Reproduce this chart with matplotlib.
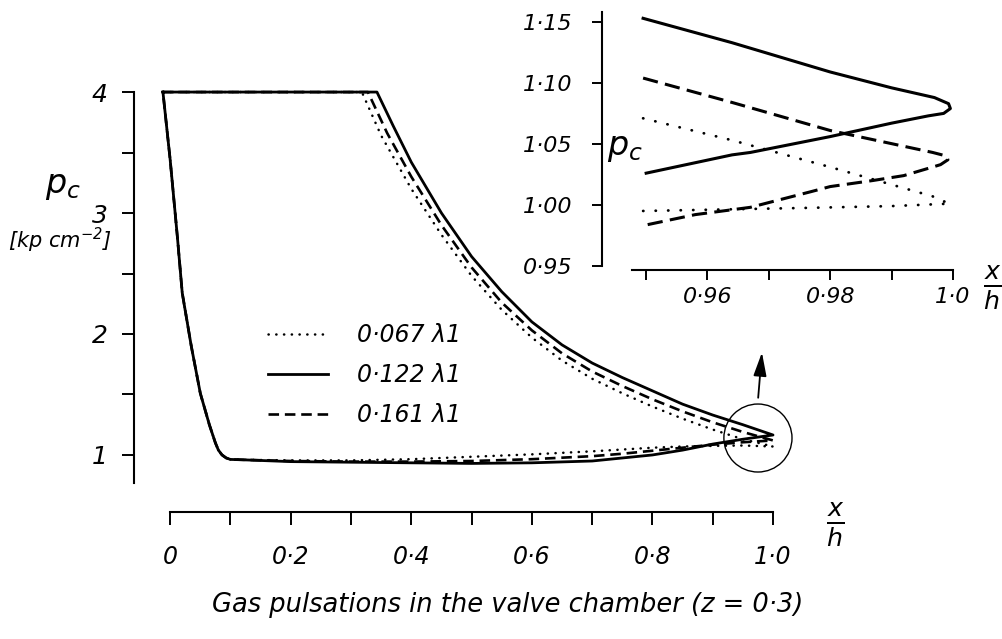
import matplotlib
matplotlib.use("Agg")
import matplotlib.pyplot as plt
from matplotlib.patches import Ellipse

# ---------------- data ----------------
series_labels = ["0·067 λ1", "0·122 λ1", "0·161 λ1"]

# shared steep left branch (x/h, p_c)
left_x = [0.12, 0.10, 0.093, 0.086, 0.08, 0.075, 0.065, 0.05, 0.035, 0.02, 0.012, 0.0, -0.012]
left_p = [0.96, 0.963, 0.975, 1.0, 1.04, 1.10, 1.25, 1.51, 1.90, 2.34, 2.80, 3.44, 4.0]

# decaying upper branches
dot_dec_x = [0.318, 0.35, 0.40, 0.45, 0.50, 0.55, 0.60, 0.65, 0.70, 0.75, 0.80, 0.85, 0.90, 0.95, 1.0]
dot_dec_p = [4.0, 3.64, 3.20, 2.82, 2.48, 2.20, 1.97, 1.78, 1.63, 1.51, 1.40, 1.30, 1.21, 1.13, 1.07]
sol_dec_x = [0.343, 0.37, 0.40, 0.45, 0.50, 0.55, 0.60, 0.65, 0.70, 0.75, 0.80, 0.85, 0.90, 0.95, 1.0]
sol_dec_p = [4.0, 3.72, 3.42, 3.00, 2.64, 2.35, 2.10, 1.91, 1.76, 1.64, 1.53, 1.42, 1.33, 1.25, 1.165]
das_dec_x = [0.328, 0.36, 0.40, 0.45, 0.50, 0.55, 0.60, 0.65, 0.70, 0.75, 0.80, 0.85, 0.90, 0.95, 1.0]
das_dec_p = [4.0, 3.66, 3.30, 2.90, 2.55, 2.26, 2.03, 1.84, 1.69, 1.57, 1.46, 1.36, 1.27, 1.19, 1.12]

# lower branches
low_x = [0.12, 0.2, 0.3, 0.4, 0.5, 0.6, 0.7, 0.75, 0.8, 0.85, 0.9, 0.95, 1.0]
dot_low_p = [0.96, 0.955, 0.955, 0.965, 0.985, 1.005, 1.03, 1.045, 1.06, 1.07, 1.075, 1.078, 1.07]
sol_low_p = [0.96, 0.945, 0.94, 0.935, 0.93, 0.935, 0.95, 0.975, 1.0, 1.04, 1.09, 1.13, 1.165]
das_low_p = [0.96, 0.95, 0.945, 0.945, 0.95, 0.965, 0.99, 1.01, 1.035, 1.06, 1.085, 1.105, 1.12]

# inset (zoom near x/h = 1)
ins_sol_x = [0.9495, 0.964, 0.980, 0.990, 0.997, 0.9993, 0.9996, 0.9985, 0.996, 0.990, 0.980, 0.967, 0.964, 0.950]
ins_sol_p = [1.153, 1.133, 1.109, 1.096, 1.088, 1.083, 1.079, 1.075, 1.073, 1.067, 1.056, 1.043, 1.041, 1.026]
ins_das_x = [0.9495, 0.964, 0.980, 0.9967, 0.9990, 0.9992, 0.998, 0.9967, 0.992, 0.987, 0.980, 0.977, 0.967, 0.958, 0.9495]
ins_das_p = [1.104, 1.084, 1.061, 1.043, 1.040, 1.037, 1.033, 1.031, 1.024, 1.020, 1.015, 1.011, 0.998, 0.992, 0.983]
ins_dot_x = [0.9495, 0.964, 0.980, 0.9967, 0.998, 0.9995, 0.990, 0.976, 0.9495]
ins_dot_p = [1.071, 1.053, 1.031, 1.007, 1.004, 1.001, 0.999, 0.9975, 0.995]

main_xticks = [0, 0.1, 0.2, 0.3, 0.4, 0.5, 0.6, 0.7, 0.8, 0.9, 1.0]
main_xlabels = ["0", "", "0·2", "", "0·4", "", "0·6", "", "0·8", "", "1·0"]
main_yticks = [1.0, 1.5, 2.0, 2.5, 3.0, 3.5, 4.0]
main_ylabels = ["1", "", "2", "", "3", "", "4"]
ins_xticks = [0.95, 0.96, 0.97, 0.98, 0.99, 1.0]
ins_xlabels = ["", "0·96", "", "0·98", "", "1·0"]
ins_yticks = [0.95, 1.00, 1.05, 1.10, 1.15]
ins_ylabels = ["0·95", "1·00", "1·05", "1·10", "1·15"]

title_text = "Gas pulsations in the valve chamber (z = 0·3)"

# ---------------- figure ----------------
plt.rcParams['font.family'] = ['DejaVu Sans']
plt.rcParams['font.style'] = 'italic'
plt.rcParams['mathtext.fontset'] = 'dejavusans'

fig = plt.figure(figsize=(10.03, 6.39), dpi=100)
ax = fig.add_axes([0.1336, 0.1839, 0.6371, 0.6815])
ax.set_xlim(-0.06, 1.0)
ax.set_ylim(0.45, 4.05)

def build(dec_x, dec_p, low_p):
    xs = [left_x[-1]] + list(dec_x) + list(reversed(low_x)) + list(left_x)
    ps = [left_p[-1]] + list(dec_p) + list(reversed(low_p)) + list(left_p)
    return xs, ps

dx, dp = build(dot_dec_x, dot_dec_p, dot_low_p)
sx, sp = build(sol_dec_x, sol_dec_p, sol_low_p)
ax_, ap = build(das_dec_x, das_dec_p, das_low_p)

l1, = ax.plot(dx, dp, color='black', lw=1.8, linestyle=(0, (0.1, 3.0)),
              dash_capstyle='round', clip_on=False, label=series_labels[0])
l2, = ax.plot(sx, sp, color='black', lw=2.0, solid_joinstyle='round',
              clip_on=False, label=series_labels[1])
l3, = ax.plot(ax_, ap, color='black', lw=1.9, linestyle=(0, (4, 2.2)),
              clip_on=False, label=series_labels[2])

for s in ['top', 'right']:
    ax.spines[s].set_visible(False)
ax.spines['left'].set_bounds(0.77, 4.0)
ax.spines['left'].set_linewidth(1.5)
ax.spines['bottom'].set_position(('data', 0.53))
ax.spines['bottom'].set_bounds(0.0, 1.0)
ax.spines['bottom'].set_linewidth(1.5)

ax.set_xticks(main_xticks)
ax.set_xticklabels(main_xlabels)
ax.set_yticks(main_yticks)
ax.set_yticklabels(main_ylabels)
ax.tick_params(axis='x', direction='out', length=9, width=1.4, pad=15, labelsize=17)
ax.tick_params(axis='y', direction='out', length=9, width=1.4, pad=10, labelsize=18)
for t in ax.get_xticklabels() + ax.get_yticklabels():
    t.set_fontstyle('italic')

leg = ax.legend(handles=[l1, l2, l3], frameon=False, fontsize=17,
                loc='upper left', bbox_to_anchor=(247 / 1003, 1 - 302 / 639),
                bbox_transform=fig.transFigure, handlelength=2.55,
                handletextpad=1.2, labelspacing=0.68)
for t in leg.get_texts():
    t.set_fontstyle('italic')

# circle & arrow
ax.add_patch(Ellipse((0.975, 1.14), 0.113, 0.562, fill=False, lw=1.0,
                     color='black', clip_on=False))
ax.annotate("", xy=(0.982, 1.87), xytext=(0.975, 1.45),
            arrowprops=dict(arrowstyle='-|>,head_width=0.25,head_length=0.9',
                            color='black', lw=1.3, mutation_scale=16),
            annotation_clip=False)

fig.text(45 / 1003, 1 - 186 / 639, r"$p_c$", fontsize=24, ha='left', va='center')
fig.text(60 / 1003, 1 - 240 / 639, r"[kp cm$^{-2}$]", fontsize=15,
         ha='center', va='center', style='italic')
fig.text(835 / 1003, 1 - 525 / 639, r"$\frac{x}{h}$", fontsize=26,
         ha='center', va='center')
fig.text(508 / 1003, 1 - 605 / 639, title_text, fontsize=18.5,
         ha='center', va='center', style='italic')

# ---------------- inset ----------------
ins = fig.add_axes([0.6002, 0.5649, 0.3559, 0.4198])
ins.set_xlim(0.9428, 1.001)
ins.set_ylim(0.94, 1.16)
ins.patch.set_alpha(0)
ins.plot(ins_dot_x, ins_dot_p, color='black', lw=2.0, linestyle=(0, (0.1, 4.4)),
         dash_capstyle='round', clip_on=False)
ins.plot(ins_sol_x, ins_sol_p, color='black', lw=2.2, clip_on=False)
ins.plot(ins_das_x, ins_das_p, color='black', lw=2.2, linestyle=(0, (5, 2.4)),
         clip_on=False)
for s in ['top', 'right']:
    ins.spines[s].set_visible(False)
ins.spines['left'].set_bounds(0.95, 1.158)
ins.spines['left'].set_linewidth(1.5)
ins.spines['bottom'].set_position(('data', 0.9467))
ins.spines['bottom'].set_bounds(0.9477, 1.0)
ins.spines['bottom'].set_linewidth(1.5)
ins.set_xticks(ins_xticks)
ins.set_xticklabels(ins_xlabels)
ins.set_yticks(ins_yticks)
ins.set_yticklabels(ins_ylabels)
ins.tick_params(axis='x', direction='out', length=7, width=1.4, pad=5, labelsize=16)
ins.tick_params(axis='y', direction='out', length=7, width=1.4, pad=14, labelsize=16)
for t in ins.get_xticklabels() + ins.get_yticklabels():
    t.set_fontstyle('italic')

fig.text(625 / 1003, 1 - 148 / 639, r"$p_c$", fontsize=24, ha='center', va='center')
fig.text(992 / 1003, 1 - 288 / 639, r"$\frac{x}{h}$", fontsize=26,
         ha='center', va='center')

fig.savefig("out.png", dpi=100)
